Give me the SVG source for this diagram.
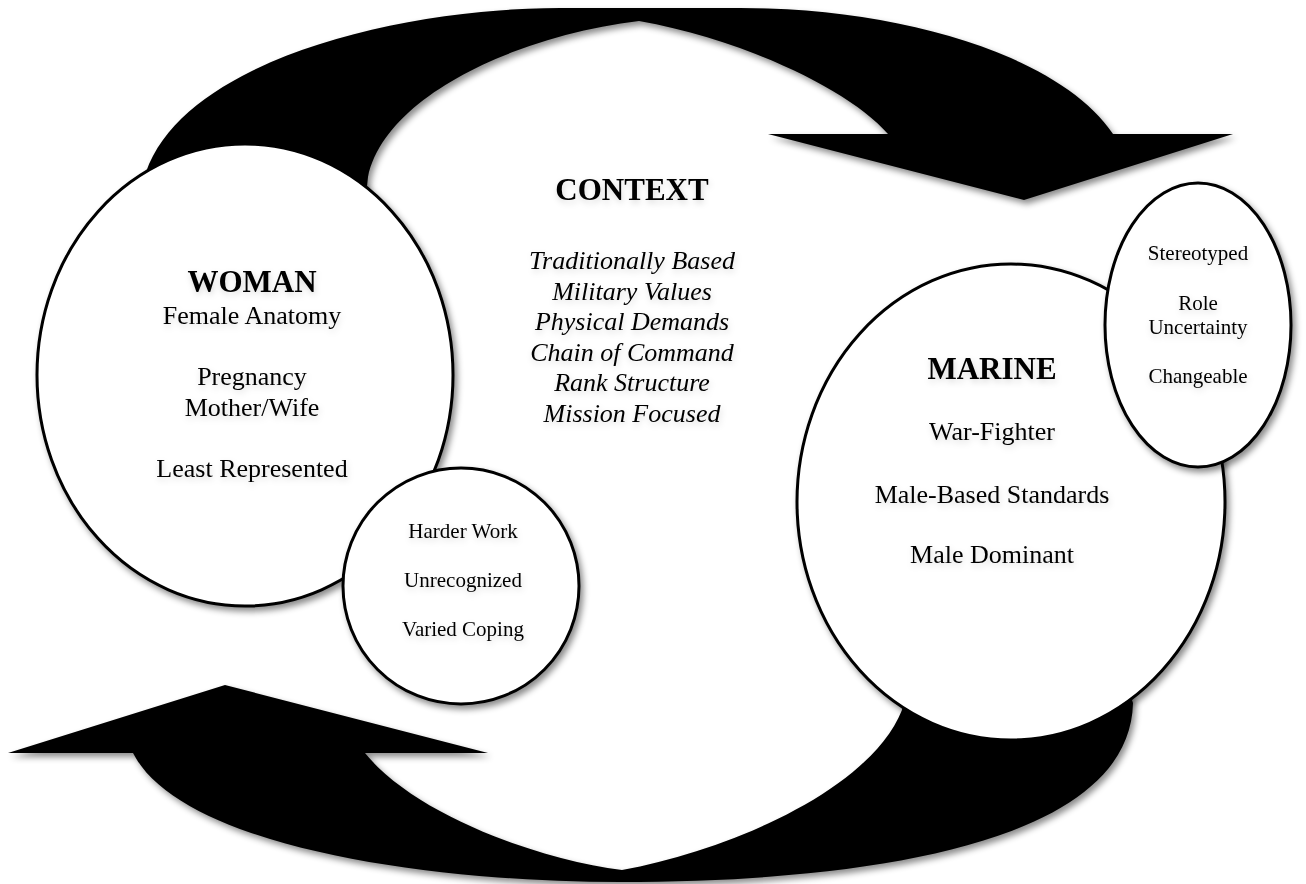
<svg xmlns="http://www.w3.org/2000/svg" width="1306" height="884" viewBox="0 0 1306 884">
<defs>
<filter id="sh" x="-10%" y="-10%" width="120%" height="120%">
<feDropShadow dx="3" dy="4" stdDeviation="3" flood-color="#000" flood-opacity="0.45"/>
</filter>
<filter id="tsh" x="-10%" y="-30%" width="120%" height="180%">
<feDropShadow dx="1" dy="3" stdDeviation="3" flood-color="#000" flood-opacity="0.15"/>
</filter>
<style>
.arrow{fill:#000;filter:url(#sh)}
.node{fill:#fff;stroke:#000;stroke-width:3;filter:url(#sh)}
text{font-family:"Liberation Serif","Times New Roman",serif;fill:#000;text-anchor:middle;filter:url(#tsh)}
.h{font-weight:bold;font-size:31px}
.t{font-size:26px}
.i{font-size:26px;font-style:italic}
.s{font-size:21px}
</style>
</defs>
<rect width="1306" height="884" fill="#fff"/>
<g id="connectors">
<path class="arrow" d="M140,205 L146,172 C185,60 400,8 560,8 L740,8 C900,8 1060,55 1113,134 L1233,134 L1024,200 L768,134 L888,134 C850,90 745,40 639,21 C520,35 385,95 368,177 L365,205 Z"/>
<path class="arrow" d="M1133,703 L1125,680 L905,680 L902,710 C870,790 730,850 622,870 C540,860 415,815 365,753 L488,753 L225,685 L8,753 L133,753 C180,845 420,882 620,882 C880,882 1130,840 1133,703 Z"/>
</g>
<g id="context">
<text class="h" x="632" y="200">CONTEXT</text>
<text class="i" x="632" y="269">Traditionally Based</text>
<text class="i" x="632" y="300">Military Values</text>
<text class="i" x="632" y="330">Physical Demands</text>
<text class="i" x="632" y="361">Chain of Command</text>
<text class="i" x="632" y="391">Rank Structure</text>
<text class="i" x="632" y="422">Mission Focused</text>
</g>
<g id="woman">
<ellipse class="node" cx="245" cy="375" rx="208" ry="231"/>
<text class="h" x="252" y="292">WOMAN</text>
<text class="t" x="252" y="324">Female Anatomy</text>
<text class="t" x="252" y="385">Pregnancy</text>
<text class="t" x="252" y="416">Mother/Wife</text>
<text class="t" x="252" y="477">Least Represented</text>
</g>
<g id="marine">
<ellipse class="node" cx="1011" cy="502" rx="214" ry="238"/>
<text class="h" x="992" y="379">MARINE</text>
<text class="t" x="992" y="440">War-Fighter</text>
<text class="t" x="992" y="503">Male-Based Standards</text>
<text class="t" x="992" y="563">Male Dominant</text>
</g>
<g id="marine-traits">
<ellipse class="node" cx="1198" cy="325" rx="93" ry="142"/>
<text class="s" x="1198" y="260">Stereotyped</text>
<text class="s" x="1198" y="310">Role</text>
<text class="s" x="1198" y="334">Uncertainty</text>
<text class="s" x="1198" y="383">Changeable</text>
</g>
<g id="woman-traits">
<ellipse class="node" cx="461" cy="586" rx="118" ry="118"/>
<text class="s" x="463" y="538">Harder Work</text>
<text class="s" x="463" y="587">Unrecognized</text>
<text class="s" x="463" y="636">Varied Coping</text>
</g>
</svg>
